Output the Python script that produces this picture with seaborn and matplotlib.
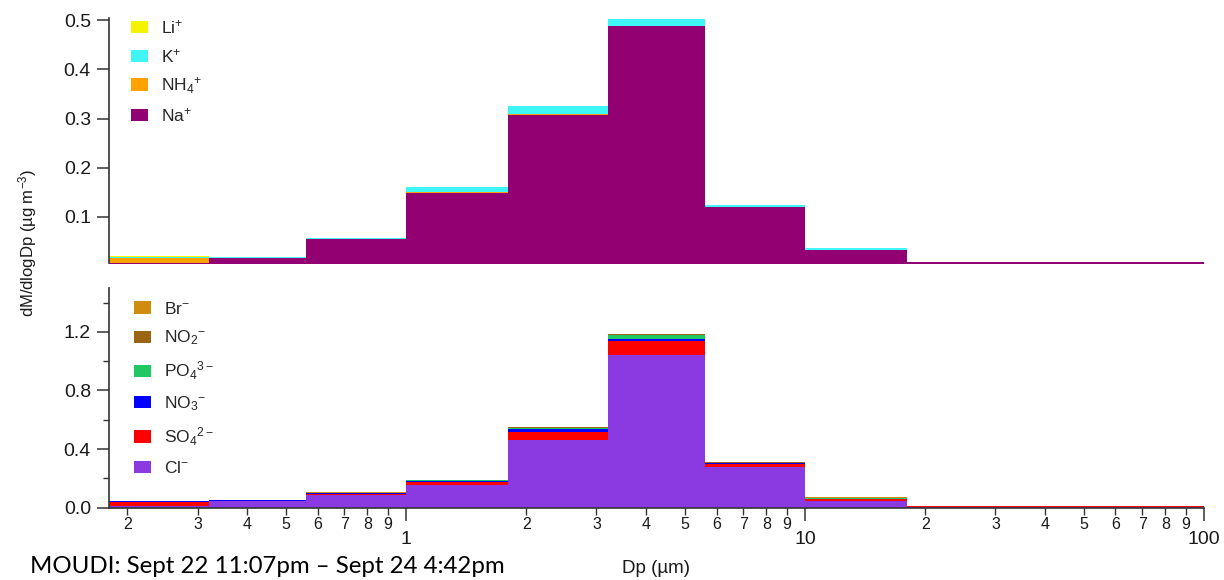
import numpy as np
import pandas as pd
import matplotlib
matplotlib.use("Agg")
import matplotlib.pyplot as plt
import matplotlib.ticker as mticker
import seaborn as sns

# ---------------- data ----------------
edges = [0.18, 0.32, 0.56, 1.0, 1.8, 3.2, 5.6, 10.0, 18.0, 100.0]

cations = ["Li$^{+}$", "K$^{+}$", "NH$_4$$^{+}$", "Na$^{+}$"]
li  = [0.001, 0.000, 0.000, 0.001, 0.001, 0.000, 0.000, 0.000, 0.000]
k   = [0.003, 0.001, 0.002, 0.009, 0.015, 0.015, 0.004, 0.004, 0.000]
nh4 = [0.009, 0.000, 0.001, 0.003, 0.002, 0.000, 0.000, 0.000, 0.000]
na  = [0.006, 0.016, 0.054, 0.148, 0.308, 0.488, 0.120, 0.031, 0.008]
cation_colors = ["#F4F400", "#3EF6F6", "#FFA200", "#930072"]

anions = ["Br$^{-}$", "NO$_2$$^{-}$", "PO$_4$$^{3-}$", "NO$_3$$^{-}$", "SO$_4$$^{2-}$", "Cl$^{-}$"]
br  = [0.000, 0.001, 0.001, 0.002, 0.002, 0.003, 0.002, 0.001, 0.000]
no2 = [0.001, 0.002, 0.001, 0.002, 0.003, 0.003, 0.003, 0.001, 0.000]
po4 = [0.001, 0.003, 0.004, 0.006, 0.005, 0.027, 0.003, 0.007, 0.000]
no3 = [0.008, 0.001, 0.004, 0.005, 0.022, 0.019, 0.004, 0.001, 0.000]
so4 = [0.025, 0.002, 0.008, 0.018, 0.055, 0.091, 0.020, 0.011, 0.006]
cl  = [0.010, 0.046, 0.085, 0.157, 0.463, 1.044, 0.280, 0.048, 0.006]
anion_colors = ["#D08C0C", "#9A6410", "#20C864", "#0000FF", "#FF0000", "#8B3AE2"]

note_text = "MOUDI: Sept 22 11:07pm \u2013 Sept 24 4:42pm"
ylabel_text = "dM/dlogDp (\u00b5g m$^{-3}$)"
xlabel_text = "Dp (\u00b5m)"

# ---------------- build tables ----------------
centers = np.sqrt(np.array(edges[:-1]) * np.array(edges[1:]))
log_edges = [float(v) for v in np.log10(edges)]

def long_table(names, series):
    rows = []
    for name, vals in zip(names, series):
        for c, v in zip(centers, vals):
            rows.append({"Dp": float(c), "ion": name, "value": v})
    return pd.DataFrame(rows)

df_top = long_table(cations, [li, k, nh4, na])
df_bot = long_table(anions, [br, no2, po4, no3, so4, cl])

# ---------------- style ----------------
sns.set_style("ticks")
plt.rcParams["font.family"] = ["Liberation Sans", "DejaVu Sans"]
plt.rcParams["mathtext.fontset"] = "custom"
plt.rcParams["mathtext.rm"] = "Liberation Sans"
plt.rcParams["mathtext.it"] = "Liberation Sans"
plt.rcParams["mathtext.default"] = "regular"
axis_col = "#333333"
plt.rcParams["axes.edgecolor"] = axis_col
plt.rcParams["xtick.color"] = axis_col
plt.rcParams["ytick.color"] = axis_col
plt.rcParams["xtick.labelcolor"] = "#1a1a1a"
plt.rcParams["ytick.labelcolor"] = "#1a1a1a"

fig = plt.figure(figsize=(12.24, 5.8), dpi=100)
L, W = 109 / 1224, (1204 - 109) / 1224
ax_top = fig.add_axes([L, 1 - 262.7 / 580, W, (262.7 - 18) / 580])
ax_bot = fig.add_axes([L, 1 - 508.3 / 580, W, (508.3 - 288) / 580])

sns.histplot(data=df_top, x="Dp", weights="value", hue="ion", hue_order=cations,
             palette=dict(zip(cations, cation_colors)), multiple="stack",
             bins=log_edges, log_scale=True, element="step", alpha=1,
             linewidth=0, ax=ax_top)
sns.histplot(data=df_bot, x="Dp", weights="value", hue="ion", hue_order=anions,
             palette=dict(zip(anions, anion_colors)), multiple="stack",
             bins=log_edges, log_scale=True, element="step", alpha=1,
             linewidth=0, ax=ax_bot)

for ax in (ax_top, ax_bot):
    ax.set_xscale("log")
    ax.set_xlim(0.18, 100)
    ax.set_xlabel("")
    ax.set_ylabel("")
    ax.spines["top"].set_visible(False)
    ax.spines["right"].set_visible(False)
    ax.spines["left"].set_linewidth(1.2)
    ax.tick_params(axis="y", which="major", length=9, width=1.1, labelsize=14, pad=4)
    ax.tick_params(axis="y", which="minor", length=4.5, width=1.0)

# top panel
ax_top.set_ylim(0.006, 0.505)
ax_top.spines["bottom"].set_visible(False)
ax_top.tick_params(axis="x", which="both", bottom=False, labelbottom=False)
ax_top.yaxis.set_major_locator(mticker.FixedLocator([0.1, 0.2, 0.3, 0.4, 0.5]))
ax_top.yaxis.set_major_formatter(mticker.FormatStrFormatter("%.1f"))
ax_top.yaxis.set_minor_locator(mticker.NullLocator())

# bottom panel
ax_bot.set_ylim(-0.005, 1.5)
ax_bot.spines["bottom"].set_linewidth(1.2)
ax_bot.yaxis.set_major_locator(mticker.FixedLocator([0.0, 0.4, 0.8, 1.2]))
ax_bot.yaxis.set_major_formatter(mticker.FormatStrFormatter("%.1f"))
ax_bot.yaxis.set_minor_locator(mticker.FixedLocator([0.2, 0.6, 1.0, 1.4]))

ax_bot.xaxis.set_major_locator(mticker.LogLocator(base=10, numticks=10))
ax_bot.xaxis.set_minor_locator(mticker.LogLocator(base=10, subs=np.arange(2, 10), numticks=20))
ax_bot.xaxis.set_major_formatter(mticker.FuncFormatter(lambda v, p: f"{v:g}"))
ax_bot.xaxis.set_minor_formatter(mticker.FuncFormatter(
    lambda v, p: str(int(round(v / 10 ** np.floor(np.log10(v) + 1e-9))))))
ax_bot.tick_params(axis="x", which="major", length=9, width=1.1, labelsize=14, pad=7.5)
ax_bot.tick_params(axis="x", which="minor", length=5, width=1.0, labelsize=11.5, pad=1.5)

# legends
sns.move_legend(ax_top, "upper left", bbox_to_anchor=(0.007, 1.055), frameon=False,
                title=None, fontsize=12.5, handlelength=1.0, handleheight=0.7,
                labelspacing=0.6, handletextpad=0.75, borderaxespad=0.0, borderpad=0.8)
sns.move_legend(ax_bot, "upper left", bbox_to_anchor=(0.013, 0.99), frameon=False,
                title=None, fontsize=12.5, handlelength=1.0, handleheight=0.7,
                labelspacing=0.7, handletextpad=0.75, borderaxespad=0.0, borderpad=0.6)

# texts
fig.text(28 / 1224, 1 - 243 / 580, ylabel_text, rotation=90, ha="center", va="center",
         fontsize=12, color="#1a1a1a")
fig.text(656 / 1224, 1 - 573 / 580, xlabel_text, ha="center", va="baseline",
         fontsize=13.5, color="#1a1a1a")
fig.text(30 / 1224, 1 - 573 / 580, note_text, ha="left", va="baseline",
         fontsize=17.3, color="black", family=["Lato", "DejaVu Sans"])

fig.savefig("out.png", dpi=100)
